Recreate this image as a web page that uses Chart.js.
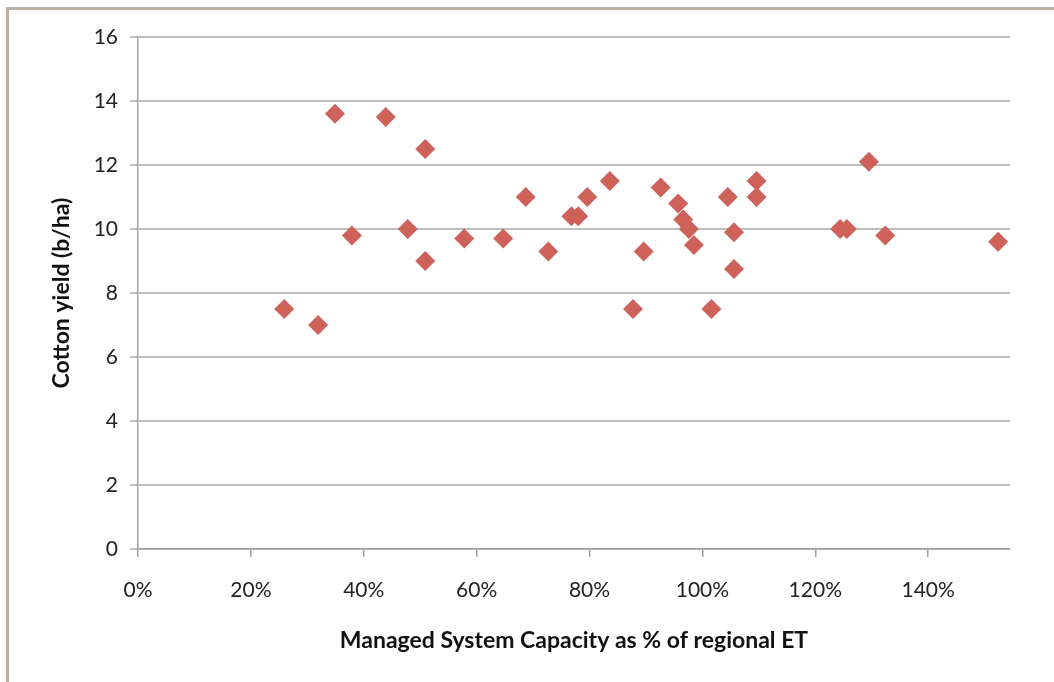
<!DOCTYPE html>
<html>
<head>
<meta charset="utf-8">
<script src="https://cdn.jsdelivr.net/npm/chart.js@4"></script>
<style>
  html, body { margin: 0; padding: 0; background: #fff; }
  #frame {
    position: absolute; left: 6px; top: 7px; width: 1060px; height: 690px;
    border-left: 3px solid #b9b1a7; border-top: 3px solid #b9b1a7;
  }
  #wrap { position: absolute; left: 0; top: 0; width: 1054px; height: 682px; }
</style>
</head>
<body>
<div id="frame"></div>
<div id="wrap"><canvas id="chart"></canvas></div>
<script>
    // values
    const capacityPct = [25.9, 31.9, 34.9, 37.9, 43.9, 47.8, 50.9, 50.9, 57.8, 64.7,
                         68.7, 72.7, 76.8, 78.0, 79.6, 83.6, 87.7, 89.6, 92.6, 95.7,
                         96.6, 97.6, 98.5, 101.6, 104.5, 105.6, 105.6, 109.6, 109.6, 124.4,
                         125.6, 129.5, 132.4, 152.4];
    const yieldBha = [7.5, 7.0, 13.6, 9.8, 13.5, 10.0, 12.5, 9.0, 9.7, 9.7,
                      11.0, 9.3, 10.4, 10.4, 11.0, 11.5, 7.5, 9.3, 11.3, 10.8,
                      10.3, 10.0, 9.5, 7.5, 11.0, 9.9, 8.75, 11.5, 11.0, 10.0,
                      10.0, 12.1, 9.8, 9.6];
    const xTitle = 'Managed System Capacity as % of regional ET';
    const yTitle = 'Cotton yield (b/ha)';

    const markerColor = '#cf615b';
    const gridColor = '#bdbdbd';
    const axisColor = '#a3a3a3';
    const tickFont = { family: 'Lato', size: 21 };
    const titleFont = { family: 'Lato', size: 23, weight: 'bold' };

    const points = capacityPct.map((x, i) => ({ x: x, y: yieldBha[i] }));

    new Chart(document.getElementById('chart'), {
        type: 'scatter',
        data: {
            datasets: [{
                label: 'Cotton yield',
                data: points,
                pointStyle: 'rectRot',
                pointRadius: 10,
                pointBackgroundColor: markerColor,
                pointBorderColor: markerColor,
                pointBorderWidth: 0
            }]
        },
        options: {
            responsive: true,
            maintainAspectRatio: false,
            animation: false,
            layout: { padding: { left: 0, top: 37, right: 44, bottom: 0 } },
            plugins: { legend: { display: false }, tooltip: { enabled: false } },
            scales: {
                x: {
                    type: 'linear',
                    min: 0,
                    max: 154.5,
                    afterFit: (s) => { s.height = 133; },
                    border: { display: true, color: axisColor, width: 1.5 },
                    grid: { drawOnChartArea: false, drawTicks: true, tickLength: 8, color: axisColor, lineWidth: 1.5 },
                    ticks: {
                        stepSize: 20,
                        includeBounds: false,
                        maxRotation: 0,
                        padding: 21,
                        color: '#222222',
                        font: tickFont,
                        callback: (v) => v + '%'
                    },
                    title: { display: true, text: xTitle, color: '#111111', font: titleFont, padding: { top: 0, bottom: 28 } }
                },
                y: {
                    min: 0,
                    max: 16,
                    afterFit: (s) => { s.width = 138; },
                    border: { display: true, color: axisColor, width: 1.5 },
                    grid: { color: gridColor, lineWidth: 2, tickLength: 8 },
                    ticks: { stepSize: 2, padding: 12, color: '#222222', font: tickFont },
                    title: { display: true, text: yTitle, color: '#111111', font: titleFont, padding: { top: 48, bottom: 0 } }
                }
            }
        }
    });
</script>
</body>
</html>
